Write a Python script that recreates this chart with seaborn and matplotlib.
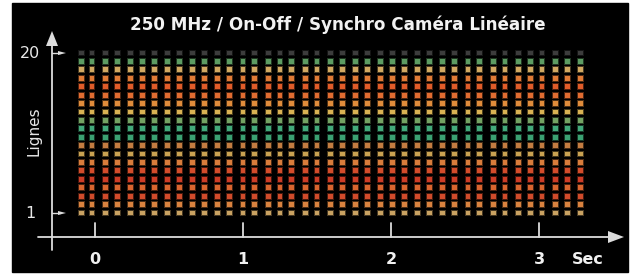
import numpy as np
import pandas as pd
import matplotlib
matplotlib.use('Agg')
import matplotlib.pyplot as plt
import seaborn as sns
from matplotlib.patches import Rectangle

sns.set_style('dark')
plt.rcParams['font.family'] = ['DejaVu Sans']

# colonnes (temps en secondes) et lignes du capteur
times = [-0.09, -0.02, 0.07, 0.15, 0.24, 0.32, 0.40, 0.49, 0.57, 0.66, 0.74,
         0.83, 0.91, 1.00, 1.08, 1.17, 1.25, 1.33, 1.42, 1.50, 1.59, 1.67,
         1.76, 1.84, 1.93, 2.01, 2.09, 2.18, 2.26, 2.35, 2.43, 2.52, 2.60,
         2.69, 2.77, 2.86, 2.94, 3.02, 3.11, 3.19, 3.28]
rows = list(range(1, 21))
# couleur de chaque ligne (ligne 1 -> ligne 20)
row_colors = ['#c9a262', '#d9823f', '#d04b2b', '#d9652f', '#cc3c26',
              '#d24c2b', '#d97c3b', '#c9a252', '#c27c41', '#3ba172',
              '#42a97a', '#73a262', '#d9b253', '#e08c3b', '#e06c31',
              '#e05c29', '#e07b36', '#d1a962', '#5c9c62', '#3c3c3c']
x_ticks = [0, 1, 2, 3]

df = pd.DataFrame([(t, r) for r in rows for t in times], columns=['t', 'row'])
palette = dict(zip(rows, row_colors))

fig = plt.figure(figsize=(6.31, 2.74), dpi=100, facecolor='white')
ax = fig.add_axes([0, 0, 1, 1])
ax.set_facecolor('white')

# echelle: 148 px par seconde, 8.42 px par ligne
px_s = 148.0
px_r = 8.42
ax.set_xlim(-95 / px_s, (631 - 95) / px_s)
ax.set_ylim(1 - 61 / px_r, 1 + 213 / px_r)
ax.set_axis_off()

ax.add_patch(Rectangle((12 / 631, 2 / 274), 616 / 631, 269 / 274,
                       transform=ax.transAxes, color='black', zorder=0))

def px_x(p):
    return (p - 95) / px_s

def px_y(p):
    return 1 + (213 - p) / px_r

# halo flou
sns.scatterplot(data=df, x='t', y='row', hue='row', palette=palette, marker='s',
                s=24, alpha=0.35, linewidth=0, legend=False, ax=ax, zorder=2)
bar = [(-0.26, -0.5), (0.26, -0.5), (0.26, 0.5), (-0.26, 0.5)]
off = 1.2 / px_s
for d in (-off, off):
    sns.scatterplot(x=df['t'] + d, y=df['row'], hue=df['row'], palette=palette,
                    marker=bar, s=12, linewidth=0, legend=False, ax=ax, zorder=3)

axis_col = '#dcdcdc'
lw = 1.3
ax_x = px_x(52)
ax_y = px_y(237)
ax.plot([ax_x, ax_x], [px_y(250), px_y(44)], color=axis_col, lw=lw, zorder=4)
ax.fill([ax_x - 6 / px_s, ax_x, ax_x + 6 / px_s], [px_y(46), px_y(31), px_y(46)],
        color=axis_col, lw=0, zorder=4)
ax.plot([px_x(38), px_x(610)], [ax_y, ax_y], color=axis_col, lw=lw, zorder=4)
ax.fill([px_x(608), px_x(624), px_x(608)], [ax_y + 6 / px_r, ax_y, ax_y - 6 / px_r],
        color=axis_col, lw=0, zorder=4)

for t in x_ticks:
    ax.plot([t, t], [px_y(223), ax_y], color=axis_col, lw=lw, zorder=4)
    ax.text(t, px_y(259), str(t), color='#f0f0f0', fontsize=11.5,
            fontweight='bold', ha='center', va='center')
ax.text(px_x(588), px_y(259), 'Sec', color='#f0f0f0', fontsize=11.5,
        fontweight='bold', ha='center', va='center')

for r in (1, 20):
    ax.plot([ax_x, px_x(60)], [r, r], color=axis_col, lw=1.0, zorder=4)
    ax.fill([px_x(58), px_x(66), px_x(58)], [r + 2 / px_r, r, r - 2 / px_r],
            color=axis_col, lw=0, zorder=4)
    ax.text(px_x(30), r, str(r), color='#e8e8e8', fontsize=11.5,
            ha='center', va='center')

ax.text(px_x(34), px_y(131), 'Lignes', color='#e8e8e8', fontsize=11,
        rotation=90, ha='center', va='center')
ax.text(px_x(338), px_y(25), '250 MHz / On-Off / Synchro Caméra Linéaire',
        color='#f2f2f2', fontsize=12.1, fontweight='bold', ha='center', va='center')

fig.savefig('out.png', dpi=100, facecolor='white')
